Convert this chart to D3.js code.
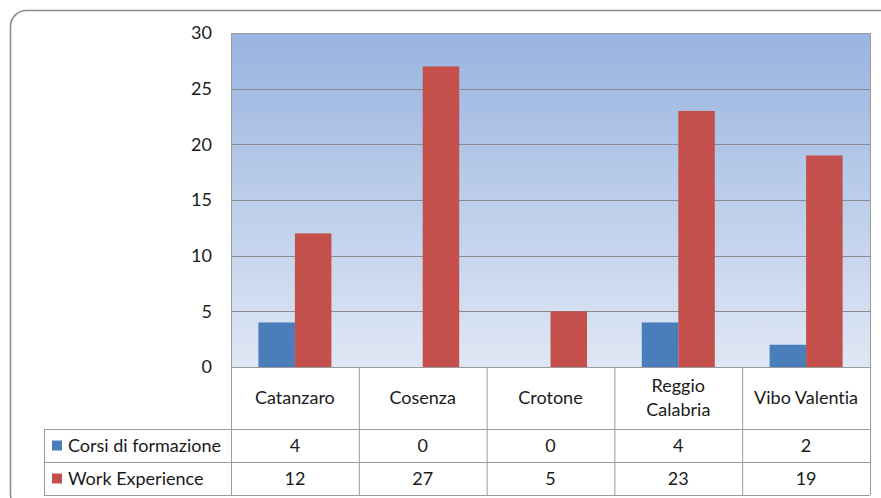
<!DOCTYPE html>
<html>
<head>
<meta charset="utf-8">
<script src="https://cdn.jsdelivr.net/npm/d3@7"></script>
<style>
  body { margin: 0; background: #fff; }
  text { font-family: Lato, "Open Sans", sans-serif; fill: #1a1a1a; font-variant-ligatures: none; font-feature-settings: "liga" 0, "clig" 0; }
</style>
</head>
<body>
<div id="chart"></div>
<script>
const categories = ["Catanzaro", "Cosenza", "Crotone", "Reggio Calabria", "Vibo Valentia"]
const categoryLines = [["Catanzaro"], ["Cosenza"], ["Crotone"], ["Reggio", "Calabria"], ["Vibo Valentia"]]
const seriesNames = ["Corsi di formazione", "Work Experience"]
const corsi = [4, 0, 0, 4, 2]
const work = [12, 27, 5, 23, 19]
const seriesColors = ["#4a7ebb", "#c4504b"]
const yTicks = [0, 5, 10, 15, 20, 25, 30]

const width = 881, height = 498
const plot = { left: 231, right: 870, top: 33, bottom: 367 }
const rowCat = 62, rowH = 33
const legendLeft = 44
const fs = 18

const svg = d3.select("#chart").append("svg")
  .attr("width", width)
  .attr("height", height)

// outer chart frame
svg.append("rect")
  .attr("x", 10.5).attr("y", 10.5)
  .attr("width", 890).attr("height", 500)
  .attr("rx", 16)
  .attr("fill", "#fff")
  .attr("stroke", "#8c8c8c")
  .attr("stroke-width", 1.6)

const defs = svg.append("defs")
const grad = defs.append("linearGradient")
  .attr("id", "bg").attr("x1", 0).attr("x2", 0).attr("y1", 0).attr("y2", 1)
grad.append("stop").attr("offset", "0%").attr("stop-color", "#98b4e0")
grad.append("stop").attr("offset", "100%").attr("stop-color", "#dfe7f4")

const y = d3.scaleLinear().domain([0, 30]).range([plot.bottom, plot.top])
const x = d3.scaleBand().domain(categories).range([plot.left, plot.right])
const x1 = d3.scaleBand().domain(seriesNames).range([0, x.bandwidth()]).paddingOuter(0.75)

svg.append("rect")
  .attr("x", plot.left).attr("y", plot.top)
  .attr("width", plot.right - plot.left).attr("height", plot.bottom - plot.top)
  .attr("fill", "url(#bg)")

// gridlines
svg.append("g").selectAll("line")
  .data(yTicks.filter(d => d > 0))
  .join("line")
  .attr("x1", plot.left).attr("x2", plot.right)
  .attr("y1", d => Math.round(y(d)) + 0.5).attr("y2", d => Math.round(y(d)) + 0.5)
  .attr("stroke", "#8a8a8a")

svg.append("rect")
  .attr("x", plot.left + 0.5).attr("y", plot.top + 0.5)
  .attr("width", plot.right - plot.left).attr("height", plot.bottom - plot.top)
  .attr("fill", "none").attr("stroke", "#9a9a9a")

// y axis labels
const yAxis = d3.axisLeft(y).tickValues(yTicks).tickSize(0).tickPadding(19)
svg.append("g")
  .attr("transform", `translate(${plot.left},0)`)
  .call(yAxis)
  .call(g => g.select(".domain").remove())
  .call(g => g.selectAll("text").attr("font-size", fs).attr("font-family", "Lato, sans-serif").attr("fill", "#1a1a1a"))

// bars
const series = [corsi, work]
series.forEach((vals, si) => {
  svg.append("g").selectAll("rect")
    .data(vals)
    .join("rect")
    .attr("x", (d, i) => x(categories[i]) + x1(seriesNames[si]))
    .attr("width", x1.bandwidth())
    .attr("y", d => y(d))
    .attr("height", d => y(0) - y(d))
    .attr("fill", seriesColors[si])
})

// data table
const table = svg.append("g")
const gridColor = "#9a9a9a"
const tTop = plot.bottom
const tBottom = tTop + rowCat + 2 * rowH

// horizontal lines
;[tTop + rowCat, tTop + rowCat + rowH, tBottom].forEach(yy => {
  table.append("line")
    .attr("x1", legendLeft).attr("x2", plot.right)
    .attr("y1", yy + 0.5).attr("y2", yy + 0.5)
    .attr("stroke", gridColor)
})
// vertical lines
table.append("line")
  .attr("x1", legendLeft + 0.5).attr("x2", legendLeft + 0.5)
  .attr("y1", tTop + rowCat).attr("y2", tBottom)
  .attr("stroke", gridColor)
categories.forEach(c => {
  table.append("line")
    .attr("x1", x(c) + 0.5).attr("x2", x(c) + 0.5)
    .attr("y1", tTop).attr("y2", tBottom)
    .attr("stroke", gridColor)
})
table.append("line")
  .attr("x1", plot.right + 0.5).attr("x2", plot.right + 0.5)
  .attr("y1", tTop).attr("y2", tBottom)
  .attr("stroke", gridColor)

// category labels
categories.forEach((c, i) => {
  const lines = categoryLines[i]
  const cy = tTop + rowCat / 2
  const t = table.append("text")
    .attr("x", x(c) + x.bandwidth() / 2)
    .attr("text-anchor", "middle")
    .attr("font-size", fs)
  lines.forEach((ln, li) => {
    t.append("tspan")
      .attr("x", x(c) + x.bandwidth() / 2)
      .attr("y", cy + (li - (lines.length - 1) / 2) * 24)
      .attr("dy", "0.35em")
      .text(ln)
  })
})

// series rows
series.forEach((vals, si) => {
  const cy = tTop + rowCat + rowH * si + rowH / 2
  table.append("rect")
    .attr("x", 52).attr("y", cy - 5)
    .attr("width", 10).attr("height", 10)
    .attr("fill", seriesColors[si])
  table.append("text")
    .attr("x", 68).attr("y", cy).attr("dy", "0.35em")
    .attr("font-size", fs)
    .text(seriesNames[si])
  vals.forEach((v, i) => {
    table.append("text")
      .attr("x", x(categories[i]) + x.bandwidth() / 2)
      .attr("y", cy).attr("dy", "0.35em")
      .attr("text-anchor", "middle")
      .attr("font-size", fs)
      .text(v)
  })
})
</script>
</body>
</html>
